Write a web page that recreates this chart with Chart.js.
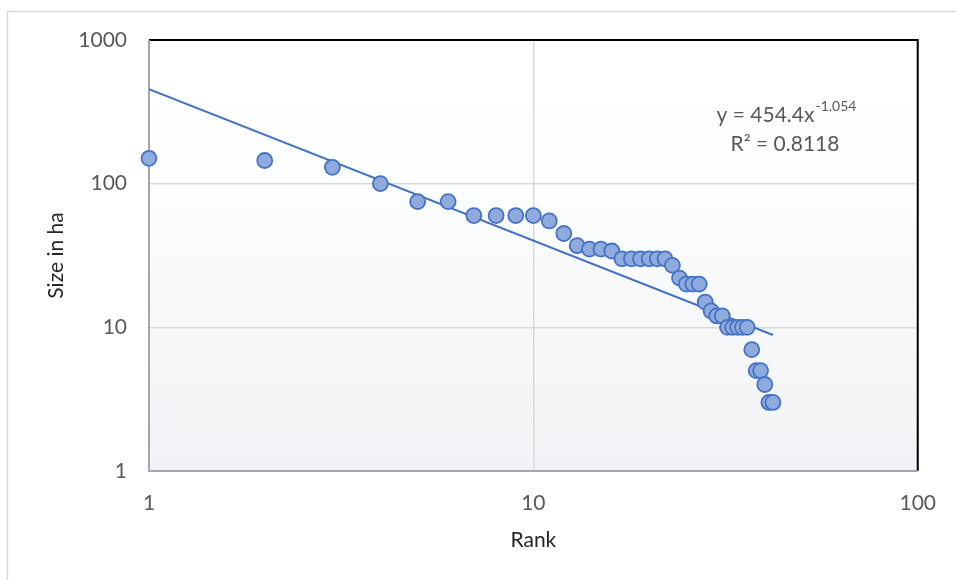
<!DOCTYPE html>
<html>
<head>
<meta charset="utf-8">
<script src="https://cdn.jsdelivr.net/npm/chart.js@4.4.1/dist/chart.umd.min.js"></script>
<style>
  html, body { margin: 0; padding: 0; background: #ffffff; }
  #wrap { width: 956px; height: 580px; position: relative; }
</style>
</head>
<body>
<div id="wrap"><canvas id="c" width="956" height="580"></canvas></div>
<script>
// Settlement ranks and sizes (ha)
const ranks = [1,2,3,4,5,6,7,8,9,10,11,12,13,14,15,16,17,18,19,20,21,22,23,24,25,26,27,28,29,30,31,32,33,34,35,36,37,38,39,40,41,42];
const sizes = [150,145,130,100,75,75,60,60,60,60,55,45,37,35,35,34,30,30,30,30,30,30,27,22,20,20,20,15,13,12,12,10,10,10,10,10,7,5,5,4,3,3];

// Power-law fit y = a * x^b, as printed on the chart
const trendA = 454.4;
const trendB = -1.054;
const trendR2 = '0.8118';
const trendRange = [1, 42];

// Decade tick values for both log axes
const xTicks = [1, 10, 100];
const yTicks = [1, 10, 100, 1000];

const FONT = 'Lato, "Open Sans", sans-serif';
const GRAY_TEXT = '#595959';

const points = ranks.map((r, i) => ({ x: r, y: sizes[i] }));
const trendPoints = trendRange.map(x => ({ x: x, y: trendA * Math.pow(x, trendB) }));

const framePlugin = {
  id: 'frame',
  beforeDraw(chart) {
    const ctx = chart.ctx;
    const a = chart.chartArea;
    ctx.save();
    // outer chart border (top + left)
    ctx.strokeStyle = '#d9d9d9';
    ctx.lineWidth = 1.5;
    ctx.beginPath();
    ctx.moveTo(7.5, 580);
    ctx.lineTo(7.5, 11.5);
    ctx.lineTo(956, 11.5);
    ctx.stroke();
    // plot area gradient fill
    const g = ctx.createLinearGradient(0, a.top, 0, a.bottom);
    g.addColorStop(0, '#ffffff');
    g.addColorStop(0.3, '#fdfefe');
    g.addColorStop(1, '#f1f2f5');
    ctx.fillStyle = g;
    ctx.fillRect(a.left, a.top, a.right - a.left, a.bottom - a.top);
    ctx.restore();
  },
  beforeDatasetsDraw(chart) {
    const ctx = chart.ctx;
    const a = chart.chartArea;
    ctx.save();
    ctx.lineWidth = 2;
    // top and right frame in black
    ctx.strokeStyle = '#000000';
    ctx.beginPath();
    ctx.moveTo(a.left, a.top);
    ctx.lineTo(a.right, a.top);
    ctx.lineTo(a.right, a.bottom);
    ctx.stroke();
    // left and bottom axis lines in gray
    ctx.strokeStyle = '#a6a6a6';
    ctx.beginPath();
    ctx.moveTo(a.left, a.top);
    ctx.lineTo(a.left, a.bottom);
    ctx.lineTo(a.right, a.bottom);
    ctx.stroke();
    ctx.restore();
  },
  afterDraw(chart) {
    const ctx = chart.ctx;
    ctx.save();
    ctx.fillStyle = GRAY_TEXT;
    ctx.textBaseline = 'alphabetic';
    // equation line: y = 454.4x^-1.054
    const main = 'y = ' + trendA.toFixed(1) + 'x';
    const sup = String(trendB);
    ctx.font = '21px ' + FONT;
    const wMain = ctx.measureText(main).width;
    ctx.font = '14px ' + FONT;
    const wSup = ctx.measureText(sup).width;
    const cx = 786;
    let x0 = cx - (wMain + wSup) / 2;
    ctx.font = '21px ' + FONT;
    ctx.textAlign = 'left';
    ctx.fillText(main, x0, 122);
    ctx.font = '14px ' + FONT;
    ctx.fillText(sup, x0 + wMain + 1, 111);
    // R² line
    ctx.font = '21px ' + FONT;
    ctx.textAlign = 'center';
    ctx.fillText('R² = ' + trendR2, 785, 151);
    ctx.restore();
  }
};

new Chart(document.getElementById('c'), {
  type: 'scatter',
  data: {
    datasets: [
      {
        type: 'line',
        label: 'Power trend',
        data: trendPoints,
        borderColor: '#4472c4',
        borderWidth: 2,
        pointRadius: 0,
        fill: false,
        tension: 0,
        order: 2
      },
      {
        label: 'Size in ha',
        data: points,
        backgroundColor: '#8faadc',
        borderColor: '#4472c4',
        borderWidth: 1.8,
        pointRadius: 7.5,
        pointHoverRadius: 7.5,
        clip: false,
        order: 1
      }
    ]
  },
  options: {
    responsive: false,
    animation: false,
    devicePixelRatio: 1,
    layout: { padding: { top: 40, right: 36, bottom: 0, left: 0 } },
    plugins: {
      legend: { display: false },
      tooltip: { enabled: false }
    },
    scales: {
      x: {
        type: 'logarithmic',
        min: 1,
        max: 100,
        afterBuildTicks(scale) { scale.ticks = xTicks.map(v => ({ value: v })); },
        afterFit(scale) { scale.height = 109; },
        ticks: {
          autoSkip: false,
          maxRotation: 0,
          padding: 20,
          color: GRAY_TEXT,
          font: { family: FONT, size: 21 },
          callback: v => String(v)
        },
        grid: { color: '#d9d9d9', lineWidth: 1.5, drawTicks: false },
        border: { display: false },
        title: {
          display: true,
          text: 'Rank',
          color: '#262626',
          font: { family: FONT, size: 21 },
          padding: { top: 0, bottom: 27 }
        }
      },
      y: {
        type: 'logarithmic',
        min: 1,
        max: 1000,
        afterBuildTicks(scale) { scale.ticks = yTicks.map(v => ({ value: v })); },
        afterFit(scale) { scale.width = 149; },
        ticks: {
          autoSkip: false,
          padding: 22,
          color: GRAY_TEXT,
          font: { family: FONT, size: 21 },
          callback: v => String(v)
        },
        grid: { color: '#d9d9d9', lineWidth: 1.5, drawTicks: false },
        border: { display: false },
        title: {
          display: true,
          text: 'Size in ha',
          color: '#262626',
          font: { family: FONT, size: 21 },
          padding: { top: 44, bottom: 0 }
        }
      }
    }
  },
  plugins: [framePlugin]
});
</script>
</body>
</html>
